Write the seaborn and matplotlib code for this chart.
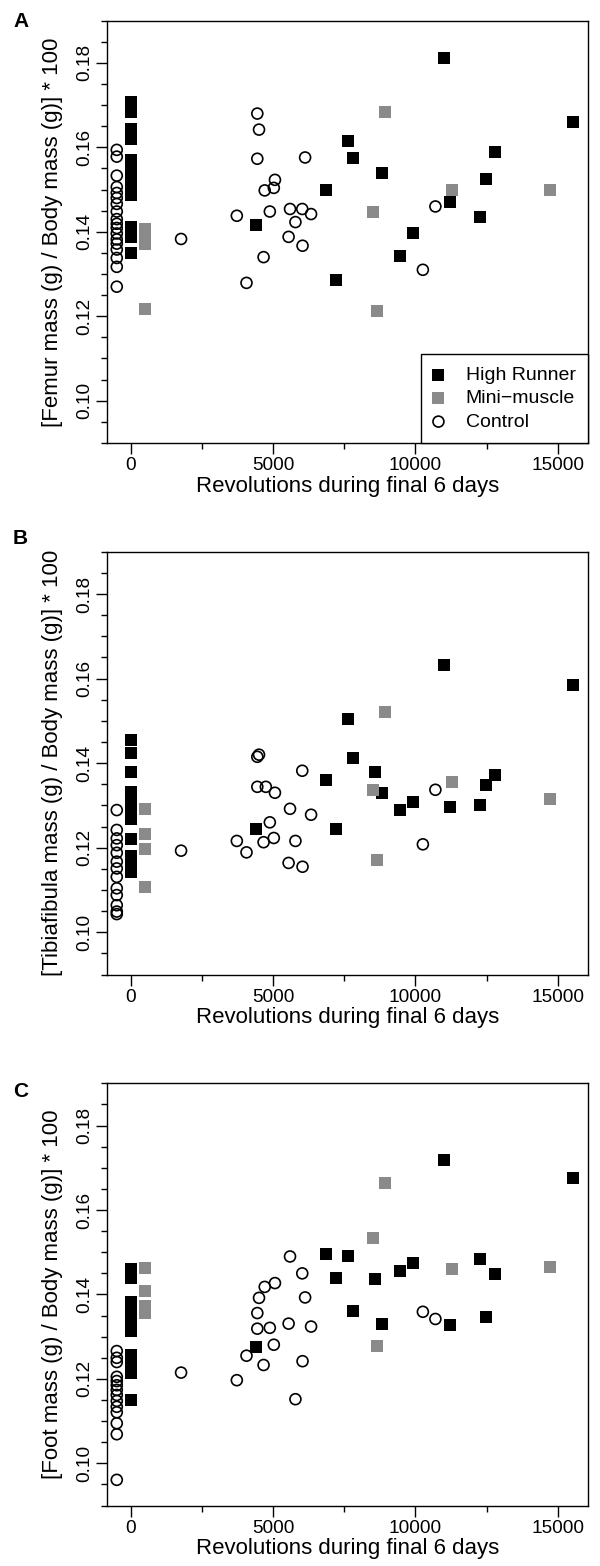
import pandas as pd
import matplotlib
matplotlib.use('Agg')
import matplotlib.pyplot as plt
import seaborn as sns
from matplotlib.ticker import MultipleLocator

sns.set_theme(style='ticks')
plt.rcParams['font.family'] = ['Liberation Sans', 'DejaVu Sans']
plt.rcParams.update({'text.color': 'black', 'axes.labelcolor': 'black',
                     'xtick.color': 'black', 'ytick.color': 'black'})

# ---- Panel A: femur ----
femur_hr_x = [0, 0, 0, 0, 0, 0, 0, 0, 0, 0, 0, 0,
              11000, 15550, 7620, 7800, 12800, 8840, 12490, 6850, 11220, 12280, 4410, 9900, 9440, 7220]
femur_hr_y = [0.1707, 0.1684, 0.1644, 0.1620, 0.1570, 0.1553, 0.1530, 0.1514, 0.1488, 0.1412, 0.1388, 0.1350,
              0.1812, 0.1660, 0.1614, 0.1575, 0.1588, 0.1539, 0.1526, 0.1500, 0.1471, 0.1436, 0.1415, 0.1396, 0.1342, 0.1286]
femur_mm_x = [500, 500, 500, 500, 8930, 11280, 14740, 8490, 8650]
femur_mm_y = [0.1407, 0.1390, 0.1371, 0.1218, 0.1684, 0.1500, 0.1498, 0.1448, 0.1212]
femur_ct_x = [-500, -500, -500, -500, -500, -500, -500, -500, -500, -500, -500, -500, -500, -500, -500, -500, -500, -500,
              4440, 4500, 4440, 6120, 5060, 5020, 4700, 4880, 3720, 5590, 6020, 6330, 5780, 5540, 6030, 4660, 4060,
              10700, 10260, 1760]
femur_ct_y = [0.1594, 0.1578, 0.1533, 0.1506, 0.1492, 0.1480, 0.1466, 0.1448, 0.1430, 0.1419, 0.1409, 0.1396,
              0.1382, 0.1372, 0.1358, 0.1338, 0.1317, 0.1270,
              0.1680, 0.1642, 0.1573, 0.1576, 0.1523, 0.1504, 0.1498, 0.1448, 0.1438, 0.1454, 0.1454, 0.1442, 0.1423,
              0.1388, 0.1367, 0.1340, 0.1279, 0.1460, 0.1310, 0.1383]

# ---- Panel B: tibiafibula ----
tibia_hr_x = [0, 0, 0, 0, 0, 0, 0, 0, 0, 0, 0,
              11000, 15550, 7620, 7800, 8590, 6850, 12800, 12490, 8840, 9900, 9440, 11220, 12280, 4410, 7220]
tibia_hr_y = [0.1455, 0.1425, 0.1378, 0.1332, 0.1308, 0.1285, 0.1268, 0.1220, 0.1181, 0.1161, 0.1142,
              0.1632, 0.1584, 0.1505, 0.1411, 0.1378, 0.1360, 0.1371, 0.1348, 0.1330, 0.1308, 0.1288, 0.1297, 0.1302,
              0.1245, 0.1245]
tibia_mm_x = [500, 500, 500, 500, 8930, 11280, 14740, 8490, 8650]
tibia_mm_y = [0.1291, 0.1232, 0.1196, 0.1106, 0.1522, 0.1356, 0.1316, 0.1337, 0.1172]
tibia_ct_x = [-500, -500, -500, -500, -500, -500, -500, -500, -500, -500, -500, -500, -500,
              4440, 4500, 6020, 4440, 4740, 5060, 10700, 5590, 6330, 4880, 3720, 4660, 5020, 5780, 4060, 1760,
              10260, 5540, 6030]
tibia_ct_y = [0.1289, 0.1242, 0.1222, 0.1206, 0.1188, 0.1167, 0.1151, 0.1131, 0.1104, 0.1088, 0.1064, 0.1049, 0.1043,
              0.1415, 0.1420, 0.1382, 0.1344, 0.1344, 0.1330, 0.1337, 0.1292, 0.1278, 0.1260, 0.1216, 0.1213, 0.1223,
              0.1216, 0.1189, 0.1193, 0.1208, 0.1164, 0.1155]

# ---- Panel C: foot ----
foot_hr_x = [0, 0, 0, 0, 0, 0, 0, 0, 0, 0,
             11000, 15550, 6850, 7620, 12280, 9900, 9440, 12800, 7220, 8590, 7800, 12490, 8840, 11220, 4410]
foot_hr_y = [0.1460, 0.1439, 0.1382, 0.1359, 0.1335, 0.1314, 0.1256, 0.1236, 0.1214, 0.1149,
             0.1719, 0.1675, 0.1496, 0.1492, 0.1485, 0.1475, 0.1456, 0.1448, 0.1439, 0.1437, 0.1361, 0.1347, 0.1330,
             0.1327, 0.1275]
foot_mm_x = [500, 500, 500, 500, 8930, 8490, 11280, 14740, 8650]
foot_mm_y = [0.1463, 0.1409, 0.1373, 0.1357, 0.1665, 0.1534, 0.1460, 0.1465, 0.1278]
foot_ct_x = [-500, -500, -500, -500, -500, -500, -500, -500, -500, -500, -500, -500, -500, -500,
             5590, 6020, 5060, 4700, 4500, 6120, 4440, 10260, 10700, 5540, 4440, 4880, 6330, 5020, 4060, 6030, 4660,
             1760, 3720, 5780]
foot_ct_y = [0.1266, 0.1250, 0.1240, 0.1205, 0.1195, 0.1185, 0.1174, 0.1162, 0.1148, 0.1134, 0.1121, 0.1095, 0.1069,
             0.0961,
             0.1490, 0.1450, 0.1427, 0.1418, 0.1392, 0.1393, 0.1356, 0.1359, 0.1342, 0.1331, 0.1319, 0.1321, 0.1324,
             0.1281, 0.1255, 0.1242, 0.1233, 0.1215, 0.1197, 0.1152]

xlabel = 'Revolutions during final 6 days'
group_names = ['High Runner', 'Mini\u2212muscle', 'Control']

fig = plt.figure(figsize=(6, 15.66), dpi=100)


def panel(rect, letter, letter_y, ylabel, hr_x, hr_y, mm_x, mm_y, ct_x, ct_y, legend=False):
    ax = fig.add_axes(rect)
    sns.scatterplot(x=ct_x, y=ct_y, ax=ax, marker='o', s=62, facecolors='none',
                    edgecolor='black', linewidth=1.2, label=group_names[2])
    sns.scatterplot(x=hr_x, y=hr_y, ax=ax, marker='s', s=68, color='black',
                    linewidth=0, label=group_names[0])
    sns.scatterplot(x=mm_x, y=mm_y, ax=ax, marker='s', s=68, color='#8a8a8a',
                    linewidth=0, label=group_names[1])

    ax.set_xlim(-855, 16075)
    ax.set_ylim(0.0899, 0.1900)
    ax.xaxis.set_major_locator(MultipleLocator(5000))
    ax.xaxis.set_minor_locator(MultipleLocator(2500))
    ax.yaxis.set_major_locator(MultipleLocator(0.02))
    ax.yaxis.set_minor_locator(MultipleLocator(0.005))
    ax.tick_params(which='major', length=8, width=1, labelsize=13.7)
    ax.tick_params(which='minor', length=4, width=1)
    ax.tick_params(axis='x', which='major', pad=2)
    ax.tick_params(axis='y', which='major', pad=2, labelrotation=90)
    for t in ax.get_yticklabels():
        t.set_va('center')
    for sp in ax.spines.values():
        sp.set_color('black')
        sp.set_linewidth(1.0)

    ax.set_xlabel(xlabel, fontsize=16, labelpad=1)
    ax.set_ylabel(ylabel, fontsize=16, labelpad=9)

    if legend:
        h, l = ax.get_legend_handles_labels()
        order = [l.index(n) for n in group_names]
        leg = ax.legend([h[i] for i in order], [l[i] for i in order], loc='lower right',
                        borderaxespad=0, fontsize=14, frameon=True, fancybox=False,
                        framealpha=1, edgecolor='black', labelspacing=0.29,
                        handletextpad=1.15, borderpad=0.65, handlelength=0.5)
        leg.get_frame().set_linewidth(1.0)
    else:
        ax.get_legend().remove()

    fig.text(13 / 600, 1 - letter_y / 1566, letter, fontsize=15, fontweight='bold',
             ha='left', va='baseline')
    return ax


panel([0.1778, 0.7169, 0.8027, 0.2699], 'A', 27, '[Femur mass (g) / Body mass (g)] * 100',
      femur_hr_x, femur_hr_y, femur_mm_x, femur_mm_y, femur_ct_x, femur_ct_y, legend=True)
panel([0.1778, 0.3774, 0.8027, 0.2703], 'B', 544, '[Tibiafibula mass (g) / Body mass (g)] * 100',
      tibia_hr_x, tibia_hr_y, tibia_mm_x, tibia_mm_y, tibia_ct_x, tibia_ct_y)
panel([0.1778, 0.0383, 0.8027, 0.2699], 'C', 1097, '[Foot mass (g) / Body mass (g)] * 100',
      foot_hr_x, foot_hr_y, foot_mm_x, foot_mm_y, foot_ct_x, foot_ct_y)

fig.savefig('out.png', dpi=100)
